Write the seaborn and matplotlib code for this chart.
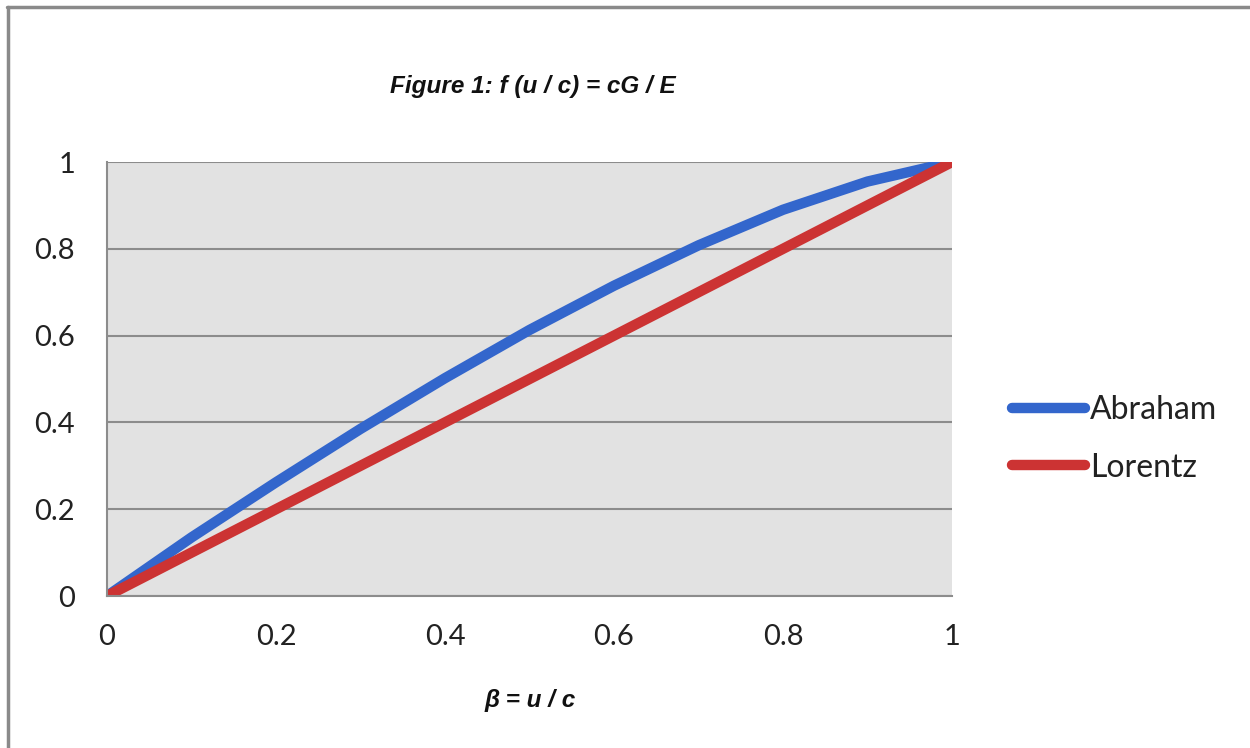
import numpy as np
import pandas as pd
import matplotlib.pyplot as plt
import seaborn as sns
from matplotlib.lines import Line2D

# ---------------- DATA ---------------- #

beta = [0.0, 0.1, 0.2, 0.3, 0.4, 0.5, 0.6, 0.7, 0.8, 0.9, 1.0]
abraham = [0.0, 0.135, 0.262, 0.385, 0.502, 0.613, 0.715, 0.808, 0.89, 0.955, 1.0]
lorentz = [0.0, 0.1, 0.2, 0.3, 0.4, 0.5, 0.6, 0.7, 0.8, 0.9, 1.0]

ticks = [0, 0.2, 0.4, 0.6, 0.8, 1]
tick_labels = ["0", "0.2", "0.4", "0.6", "0.8", "1"]

df = pd.concat([
    pd.DataFrame({"beta": beta, "f": abraham, "model": "Abraham"}),
    pd.DataFrame({"beta": beta, "f": lorentz, "model": "Lorentz"}),
])

# ---------------- PLOT ---------------- #

sns.set_theme(style="white")
plt.rcParams["font.family"] = ["Lato", "DejaVu Sans"]

fig = plt.figure(figsize=(12.5, 7.48), dpi=100)
ax = fig.add_axes([0.0856, 0.2032, 0.676, 0.5802])
ax.set_facecolor("#e2e2e2")

palette = {"Abraham": "#3366cc", "Lorentz": "#cc3333"}
sns.lineplot(data=df, x="beta", y="f", hue="model", palette=palette,
             linewidth=7.5, ax=ax, legend=False, sort=False,
             solid_capstyle="butt", solid_joinstyle="round")

ax.set_xlim(0, 1)
ax.set_ylim(0, 1)
ax.set_xticks(ticks)
ax.set_xticklabels(tick_labels)
ax.set_yticks(ticks)
ax.set_yticklabels(tick_labels)
ax.tick_params(axis="both", length=0, labelsize=21, colors="#222222")
ax.tick_params(axis="y", pad=23)
ax.tick_params(axis="x", pad=20)
ax.yaxis.grid(True, color="#8c8c8c", linewidth=1.5)
ax.set_axisbelow(True)
for side in ["top", "right"]:
    ax.spines[side].set_visible(False)
ax.spines["left"].set_color("#8c8c8c")
ax.spines["bottom"].set_color("#8c8c8c")
ax.spines["left"].set_linewidth(1.5)
ax.spines["bottom"].set_linewidth(1.5)
ax.set_xlabel("")
ax.set_ylabel("")

fig.text(0.426, 0.884, "Figure 1: f (u / c) = cG / E", ha="center", va="center",
         fontsize=17.5, style="italic", weight="bold",
         family=["Liberation Sans", "DejaVu Sans"], color="#111111")
fig.text(0.424, 0.063, "\u03b2 = u / c", ha="center", va="center",
         fontsize=17.5, style="italic", weight="bold",
         family=["Liberation Sans", "DejaVu Sans"], color="#111111")

handles = [Line2D([], [], color=palette[m], linewidth=7.5, solid_capstyle="round")
           for m in ["Abraham", "Lorentz"]]
fig.legend(handles, ["Abraham", "Lorentz"], loc="center left",
           bbox_to_anchor=(0.8096, 0.413), frameon=False, fontsize=23,
           borderpad=0, borderaxespad=0, handlelength=2.3, handletextpad=0.15,
           labelspacing=0.85, labelcolor="#222222")

# frame around the picture (top and left edges visible)
fig.add_artist(Line2D([0.0056, 1.0], [0.990, 0.990], transform=fig.transFigure,
                      color="#8a8a8a", linewidth=2.5))
fig.add_artist(Line2D([0.0064, 0.0064], [0.0, 0.990], transform=fig.transFigure,
                      color="#8a8a8a", linewidth=2.5))

plt.savefig("out.png", dpi=100)
plt.close()
